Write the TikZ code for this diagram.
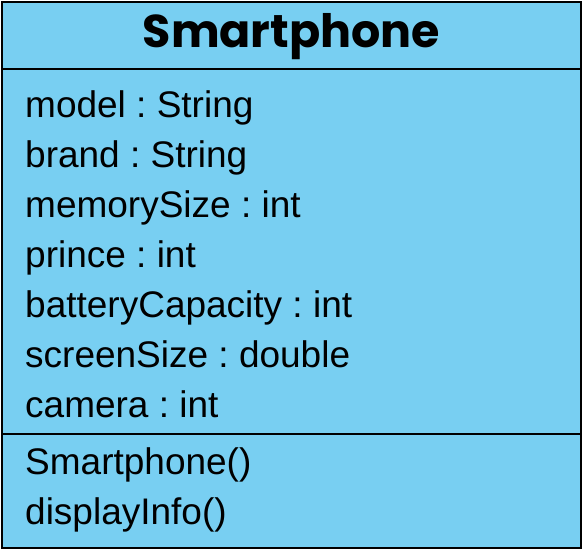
\documentclass[tikz,border=0pt]{standalone}
\usepackage{fontspec}
\setmainfont{Liberation Sans}
\newfontfamily\titlefont{Poppins}[BoldFont={* Bold}]
\definecolor{classfill}{RGB}{120,207,242}
\frenchspacing
\begin{document}
\begin{tikzpicture}[x=1pt,y=-1pt,
  member/.style={anchor=base west,inner sep=0pt,font=\fontsize{37}{37}\selectfont},
  classtitle/.style={anchor=base,inner sep=0pt,font=\titlefont\bfseries\fontsize{46}{46}\selectfont},
  frame/.style={draw=black,line width=2.4pt}]
  \useasboundingbox (0,0) rectangle (583,550);
  % class box and compartment dividers
  \draw[frame,fill=classfill] (2,2) rectangle (581,548);
  \coordinate (d1l) at (2,69); \coordinate (d1r) at (581,69);
  \coordinate (d2l) at (2,434); \coordinate (d2r) at (581,434);
  \draw[frame] (d1l) -- (d1r);
  \draw[frame] (d2l) -- (d2r);
  % class name
  \node[classtitle] (title) at (291.5,47) {Smartphone};
  % attributes
  \node[member] (a1) at (25,117) {model : String};
  \node[member] (a2) at (25,167) {brand : String};
  \node[member] (a3) at (25,217) {memorySize : int};
  \node[member] (a4) at (25,267) {prince : int};
  \node[member] (a5) at (25,317) {batteryCapacity : int};
  \node[member] (a6) at (25,367) {screenSize : double};
  \node[member] (a7) at (25,417) {camera : int};
  % operations
  \node[member] (m1) at (25,474) {Smartphone()};
  \node[member] (m2) at (25,524) {displayInfo()};
\end{tikzpicture}
\end{document}
